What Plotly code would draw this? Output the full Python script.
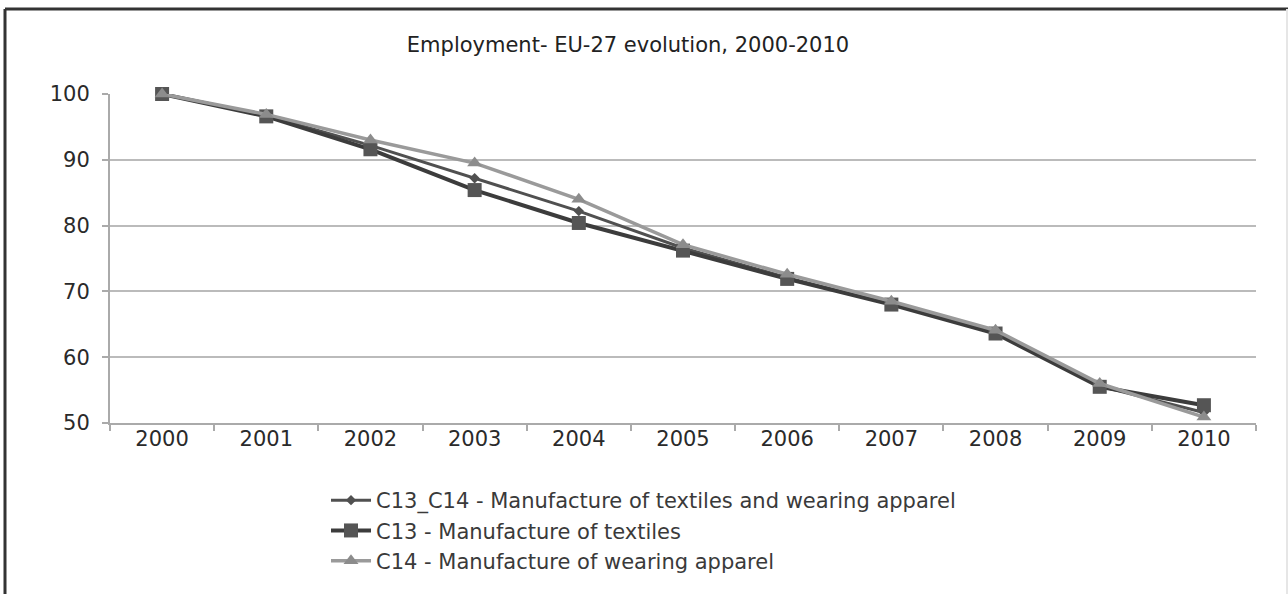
import plotly.graph_objects as go

years = ["2000", "2001", "2002", "2003", "2004", "2005", "2006", "2007", "2008", "2009", "2010"]
c13_c14 = [100, 96.7, 92.2, 87.2, 82.2, 76.6, 72.1, 68.1, 63.8, 55.6, 51.6]
c13 = [100, 96.6, 91.6, 85.4, 80.4, 76.2, 71.9, 68.0, 63.6, 55.5, 52.7]
c14 = [100, 96.9, 93.0, 89.5, 84.0, 77.1, 72.6, 68.5, 64.1, 56.0, 50.9]
names = ["C13_C14 - Manufacture of textiles and wearing apparel",
         "C13 - Manufacture of textiles",
         "C14 - Manufacture of wearing apparel"]

fig = go.Figure()
fig.add_trace(go.Scatter(x=years, y=c13_c14, name=names[0], mode="lines+markers",
                         line=dict(color="#505050", width=3),
                         marker=dict(symbol="diamond", size=8, color="#505050"),
                         cliponaxis=False))
fig.add_trace(go.Scatter(x=years, y=c13, name=names[1], mode="lines+markers",
                         line=dict(color="#3c3c3c", width=4),
                         marker=dict(symbol="square", size=14, color="#555555"),
                         cliponaxis=False))
fig.add_trace(go.Scatter(x=years, y=c14, name=names[2], mode="lines+markers",
                         line=dict(color="#9a9a9a", width=3.5),
                         marker=dict(symbol="triangle-up", size=13, color="#8c8c8c"),
                         cliponaxis=False))

font_family = "'DejaVu Sans', sans-serif"
fs = 21
fig.update_layout(
    width=1288, height=594,
    margin=dict(l=110, r=32, t=94, b=171),
    paper_bgcolor="white", plot_bgcolor="white",
    font=dict(family=font_family, color="#2a2a2a", size=fs),
    title=dict(text="Employment- EU-27 evolution, 2000-2010", x=(628 - 110) / 1146, xanchor="center",
               xref="paper",
               y=1 - 45 / 594, yanchor="middle", font=dict(size=fs, color="#222222")),
    showlegend=True,
    legend=dict(x=(326 - 110) / 1146, y=(423 - 480) / 329, xanchor="left", yanchor="top",
                font=dict(size=fs, color="#3a3a3a"), bgcolor="rgba(0,0,0,0)",
                itemwidth=40, tracegroupgap=0),
    xaxis=dict(type="category", range=[-0.5, 10.5], showgrid=False, showline=True,
               linecolor="#aaaaaa", linewidth=2,
               ticks="outside", tickson="boundaries", ticklen=6, tickcolor="#aaaaaa", tickwidth=2,
               ticklabelstandoff=-4,
               tickfont=dict(size=fs, color="#2a2a2a")),
    yaxis=dict(range=[50, 100], tickvals=[50, 60, 70, 80, 90, 100], showgrid=True,
               gridcolor="#bbbbbb", gridwidth=2, showline=True, linecolor="#aaaaaa", linewidth=2,
               ticks="outside", ticklen=6, tickcolor="#aaaaaa", tickwidth=2,
               ticklabelstandoff=8,
               tickfont=dict(size=fs, color="#2a2a2a"), zeroline=False),
)

# outer frame (left and top dark, right faint)
fig.add_shape(type="line", xref="paper", yref="paper",
              x0=(5 - 110) / 1146, x1=(5 - 110) / 1146, y0=(423 - 600) / 329, y1=(423 - 9) / 329,
              line=dict(color="#333333", width=3))
fig.add_shape(type="line", xref="paper", yref="paper",
              x0=(5 - 110) / 1146, x1=(1288 - 110) / 1146, y0=(423 - 9) / 329, y1=(423 - 9) / 329,
              line=dict(color="#333333", width=3))
fig.add_shape(type="line", xref="paper", yref="paper",
              x0=(1287 - 110) / 1146, x1=(1287 - 110) / 1146, y0=(423 - 600) / 329, y1=(423 - 9) / 329,
              line=dict(color="#e6e6e6", width=2))

fig.write_html("out.html")
